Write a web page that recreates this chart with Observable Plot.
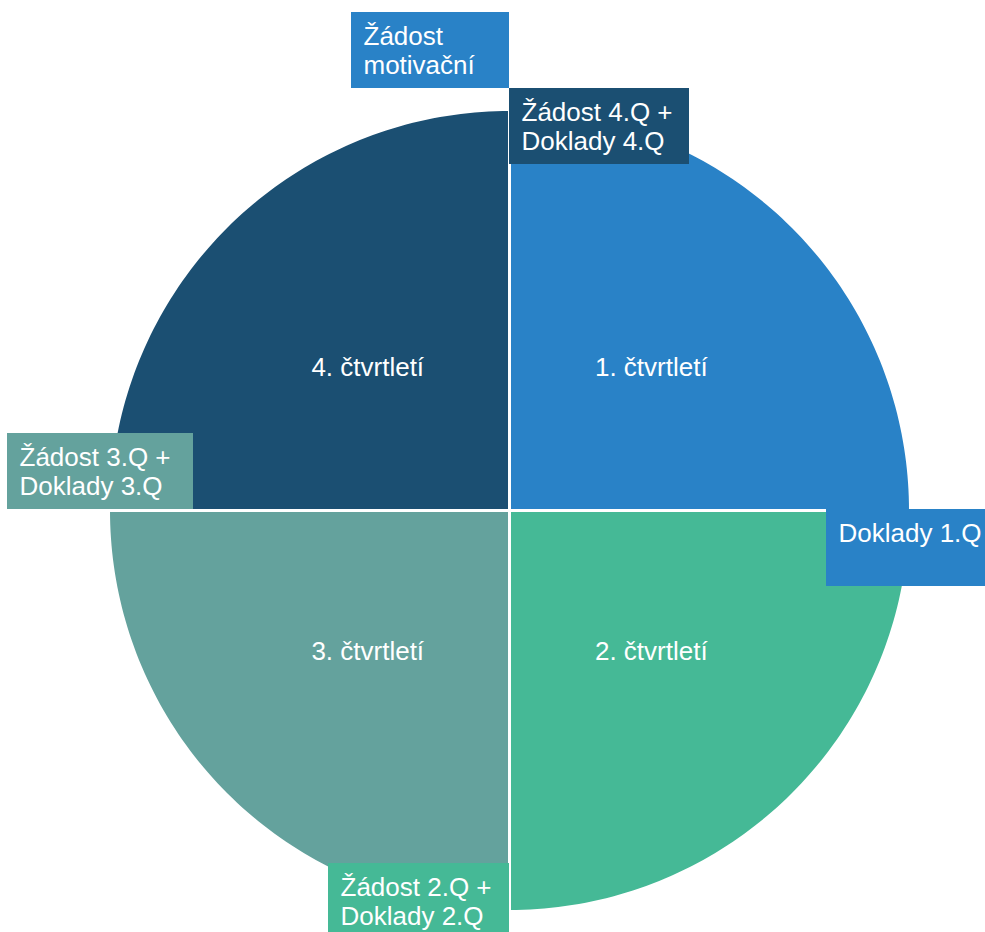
<!DOCTYPE html>
<html>
<head>
<meta charset="utf-8">
<script src="https://cdn.jsdelivr.net/npm/d3@7"></script>
<script src="https://cdn.jsdelivr.net/npm/@observablehq/plot@0.6"></script>
<style>
  html, body { margin: 0; padding: 0; background: #fff; overflow: hidden; }
  #chart svg { display: block; }
</style>
</head>
<body>
<div id="chart"></div>
<script>
// ---- data ----
const quarters = ["1. čtvrtletí", "2. čtvrtletí", "3. čtvrtletí", "4. čtvrtletí"];
const shares = [25, 25, 25, 25];
const milestones = [
  "Žádost\nmotivační",
  "Žádost 4.Q +\nDoklady 4.Q",
  "Doklady 1.Q",
  "Žádost 2.Q +\nDoklady 2.Q",
  "Žádost 3.Q +\nDoklady 3.Q"
];
const milestoneQuarter = [1, 4, 1, 2, 3];

// ---- styles / layout ----
const W = 985, H = 932;
const CX = 509, CY = 510, R = 401;           // pie centre and radius in px
const quarterColors = ["#2982C7", "#45B996", "#64A29D", "#1B4F72"];
// label boxes: [left, top, right, bottom] in px relative to pie centre
const boxPx = [
  [-158, -498, 0, -422],
  [0, -422, 180, -346],
  [317, -1, 497, 76],
  [-181, 353, 0, 429],
  [-502, -77, -316, -1]
];
const FONT = 26;

// ---- build ----
const arcs = d3.pie().sort(null).value(d => d)(shares);
const slices = arcs.map((a, i) => {
  const pts = [{x: 0, y: 0}];
  const n = 90;
  for (let k = 0; k <= n; k++) {
    const t = a.startAngle + (a.endAngle - a.startAngle) * k / n;
    pts.push({x: Math.sin(t), y: Math.cos(t)});
  }
  pts.push({x: 0, y: 0});
  return {name: quarters[i], color: quarterColors[i], pts,
          mid: (a.startAngle + a.endAngle) / 2};
});
const sliceLabels = slices.map(s => ({
  name: s.name, x: 0.5 * Math.sin(s.mid), y: 0.5 * Math.cos(s.mid)
}));
const boxes = milestones.map((m, i) => {
  const [l, t, r, b] = boxPx[i];
  return {label: m, color: quarterColors[milestoneQuarter[i] - 1],
          x1: l / R, x2: r / R, y1: -t / R, y2: -b / R};
});

const marks = [];
for (const s of slices) {
  marks.push(Plot.line(s.pts, {x: "x", y: "y", fill: s.color, stroke: "#fff",
    strokeWidth: 3, strokeLinejoin: "round", curve: "linear"}));
}
marks.push(Plot.text(sliceLabels, {x: "x", y: "y", text: "name", fill: "#fff",
  fontSize: FONT, textAnchor: "middle", lineAnchor: "middle", dy: -1}));
marks.push(Plot.rect(boxes, {x1: "x1", x2: "x2", y1: "y1", y2: "y2", fill: d => d.color}));
marks.push(Plot.text(boxes, {x: "x1", y: "y1", text: "label", fill: "#fff",
  fontSize: FONT, textAnchor: "start", lineAnchor: "top", lineHeight: 1.11,
  dx: 12, dy: 12}));

const chart = Plot.plot({
  width: W, height: H, margin: 0,
  x: {domain: [-CX / R, (W - CX) / R], axis: null},
  y: {domain: [-(H - CY) / R, CY / R], axis: null},
  style: {fontFamily: "'Liberation Sans', Arial, sans-serif", background: "#fff"},
  marks
});
document.getElementById("chart").appendChild(chart);
</script>
</body>
</html>
